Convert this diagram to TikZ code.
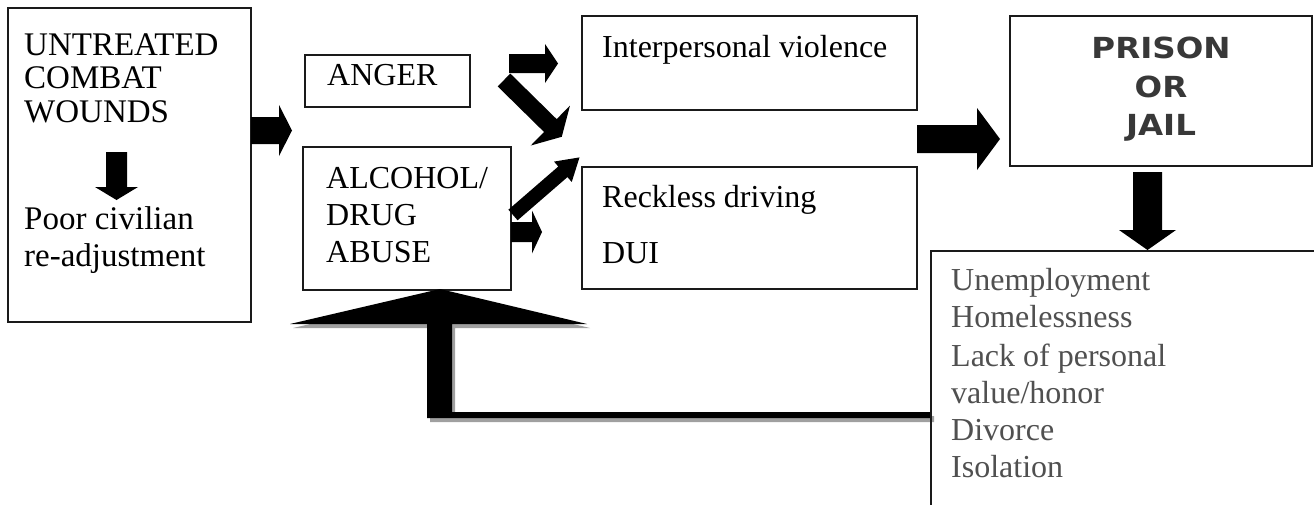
\documentclass[tikz,border=0pt]{standalone}
\usepackage{fontspec}
\setmainfont{Liberation Serif}
\newfontfamily\pfont{DejaVu Sans}[FakeStretch=1.12]
\definecolor{boxline}{HTML}{1A1A1A}
\definecolor{listgray}{HTML}{505050}
\definecolor{prisongray}{HTML}{383838}
\definecolor{shadowgray}{HTML}{A0A0A0}
\tikzset{
  box/.style={draw=boxline, line width=1.8pt, rectangle, inner sep=0pt, outer sep=0pt, anchor=north west},
  txt/.style={anchor=base west, inner sep=0pt, font=\fontsize{32}{37}\selectfont},
  txtA/.style={anchor=base west, inner sep=0pt, font=\fontsize{33}{38}\selectfont},
  listtxt/.style={txt, text=listgray},
  ptxt/.style={anchor=base, inner sep=0pt, text=prisongray, font=\pfont\bfseries\fontsize{29}{34}\selectfont},
  blkfill/.style={fill=black},
}
% #1,#2 start (px), #3 angle, #4 shaft length, #5 shaft half width, #6 head half width, #7 head length
\newcommand{\blkarrow}[7]{%
  \fill[blkfill, shift={(#1,#2)}, rotate=#3] (0,-#5) -- (#4,-#5) -- (#4,-#6) -- ({#4+#7},0) -- (#4,#6) -- (#4,#5) -- (0,#5) -- cycle;}
\begin{document}
\begin{tikzpicture}[x=1pt, y=-1pt]
\useasboundingbox[fill=white] (0,0) rectangle (1314,504);

% boxes
\node[box, minimum width=243, minimum height=314] (A) at (8,8) {};
\node[box, minimum width=165, minimum height=52] (B) at (305,55) {};
\node[box, minimum width=208, minimum height=143] (C) at (303,147) {};
\node[box, minimum width=335, minimum height=94] (D) at (582,16) {};
\node[box, minimum width=335, minimum height=122] (E) at (582,167) {};
\node[box, minimum width=302, minimum height=150] (P) at (1010,16) {};
\node[box, draw=none, minimum width=400, minimum height=260] (F) at (931,251) {};
\draw[boxline, line width=1.8pt] (F.north east) -- (F.north west) -- (F.south west);

% texts
\node[txtA] (a1) at (24,55) {UNTREATED};
\node[txtA] (a2) at (24,88) {COMBAT};
\node[txtA] (a3) at (24,122) {WOUNDS};
\node[txtA] (a4) at (24,229) {Poor civilian};
\node[txtA] (a5) at (24,266) {re-adjustment};
\node[txt] (b1) at (327,85) {ANGER};
\node[txt] (c1) at (326,188) {ALCOHOL/};
\node[txt] (c2) at (326,225) {DRUG};
\node[txt] (c3) at (326,262) {ABUSE};
\node[txt] (d1) at (602,57) {Interpersonal violence};
\node[txt] (e1) at (602,207) {Reckless driving};
\node[txt] (e2) at (602,263) {DUI};
\node[ptxt] (p1) at (1161,58) {PRISON};
\node[ptxt] (p2) at (1161,97) {OR};
\node[ptxt] (p3) at (1161,135) {JAIL};
\node[listtxt] (f1) at (951,290) {Unemployment};
\node[listtxt] (f2) at (951,327) {Homelessness};
\node[listtxt] (f3) at (951,366) {Lack of personal};
\node[listtxt] (f4) at (951,403) {value/honor};
\node[listtxt] (f5) at (951,440) {Divorce};
\node[listtxt] (f6) at (951,477) {Isolation};

% block arrows
\blkarrow{116.5}{152}{-90}{35}{10.5}{21.5}{13}
\blkarrow{251}{130.5}{0}{28}{13.5}{25.5}{13}
\blkarrow{509}{63.5}{0}{36}{9.5}{19.5}{13}
\blkarrow{504}{80}{-44.5}{65}{9}{28}{16}
\blkarrow{513}{215}{40.9}{66}{7}{13.5}{22}
\blkarrow{511}{232}{0}{21}{10}{21.5}{10}
\blkarrow{917}{139}{0}{60}{14}{31}{23}
\blkarrow{1147.5}{172}{-90}{58}{14.5}{28.5}{20}

% feedback arrow with shadow
\fill[shadowgray, shift={(3,4)}] (440,289) -- (587,324) -- (452,324) -- (452,412) -- (931,412) -- (931,418) -- (427,418) -- (427,324) -- (290,324) -- cycle;
\fill[blkfill] (440,289) -- (587,324) -- (452,324) -- (452,412) -- (931,412) -- (931,418) -- (427,418) -- (427,324) -- (290,324) -- cycle;
\draw[boxline, line width=1.8pt] (F.north west) -- (F.south west);
\end{tikzpicture}
\end{document}
